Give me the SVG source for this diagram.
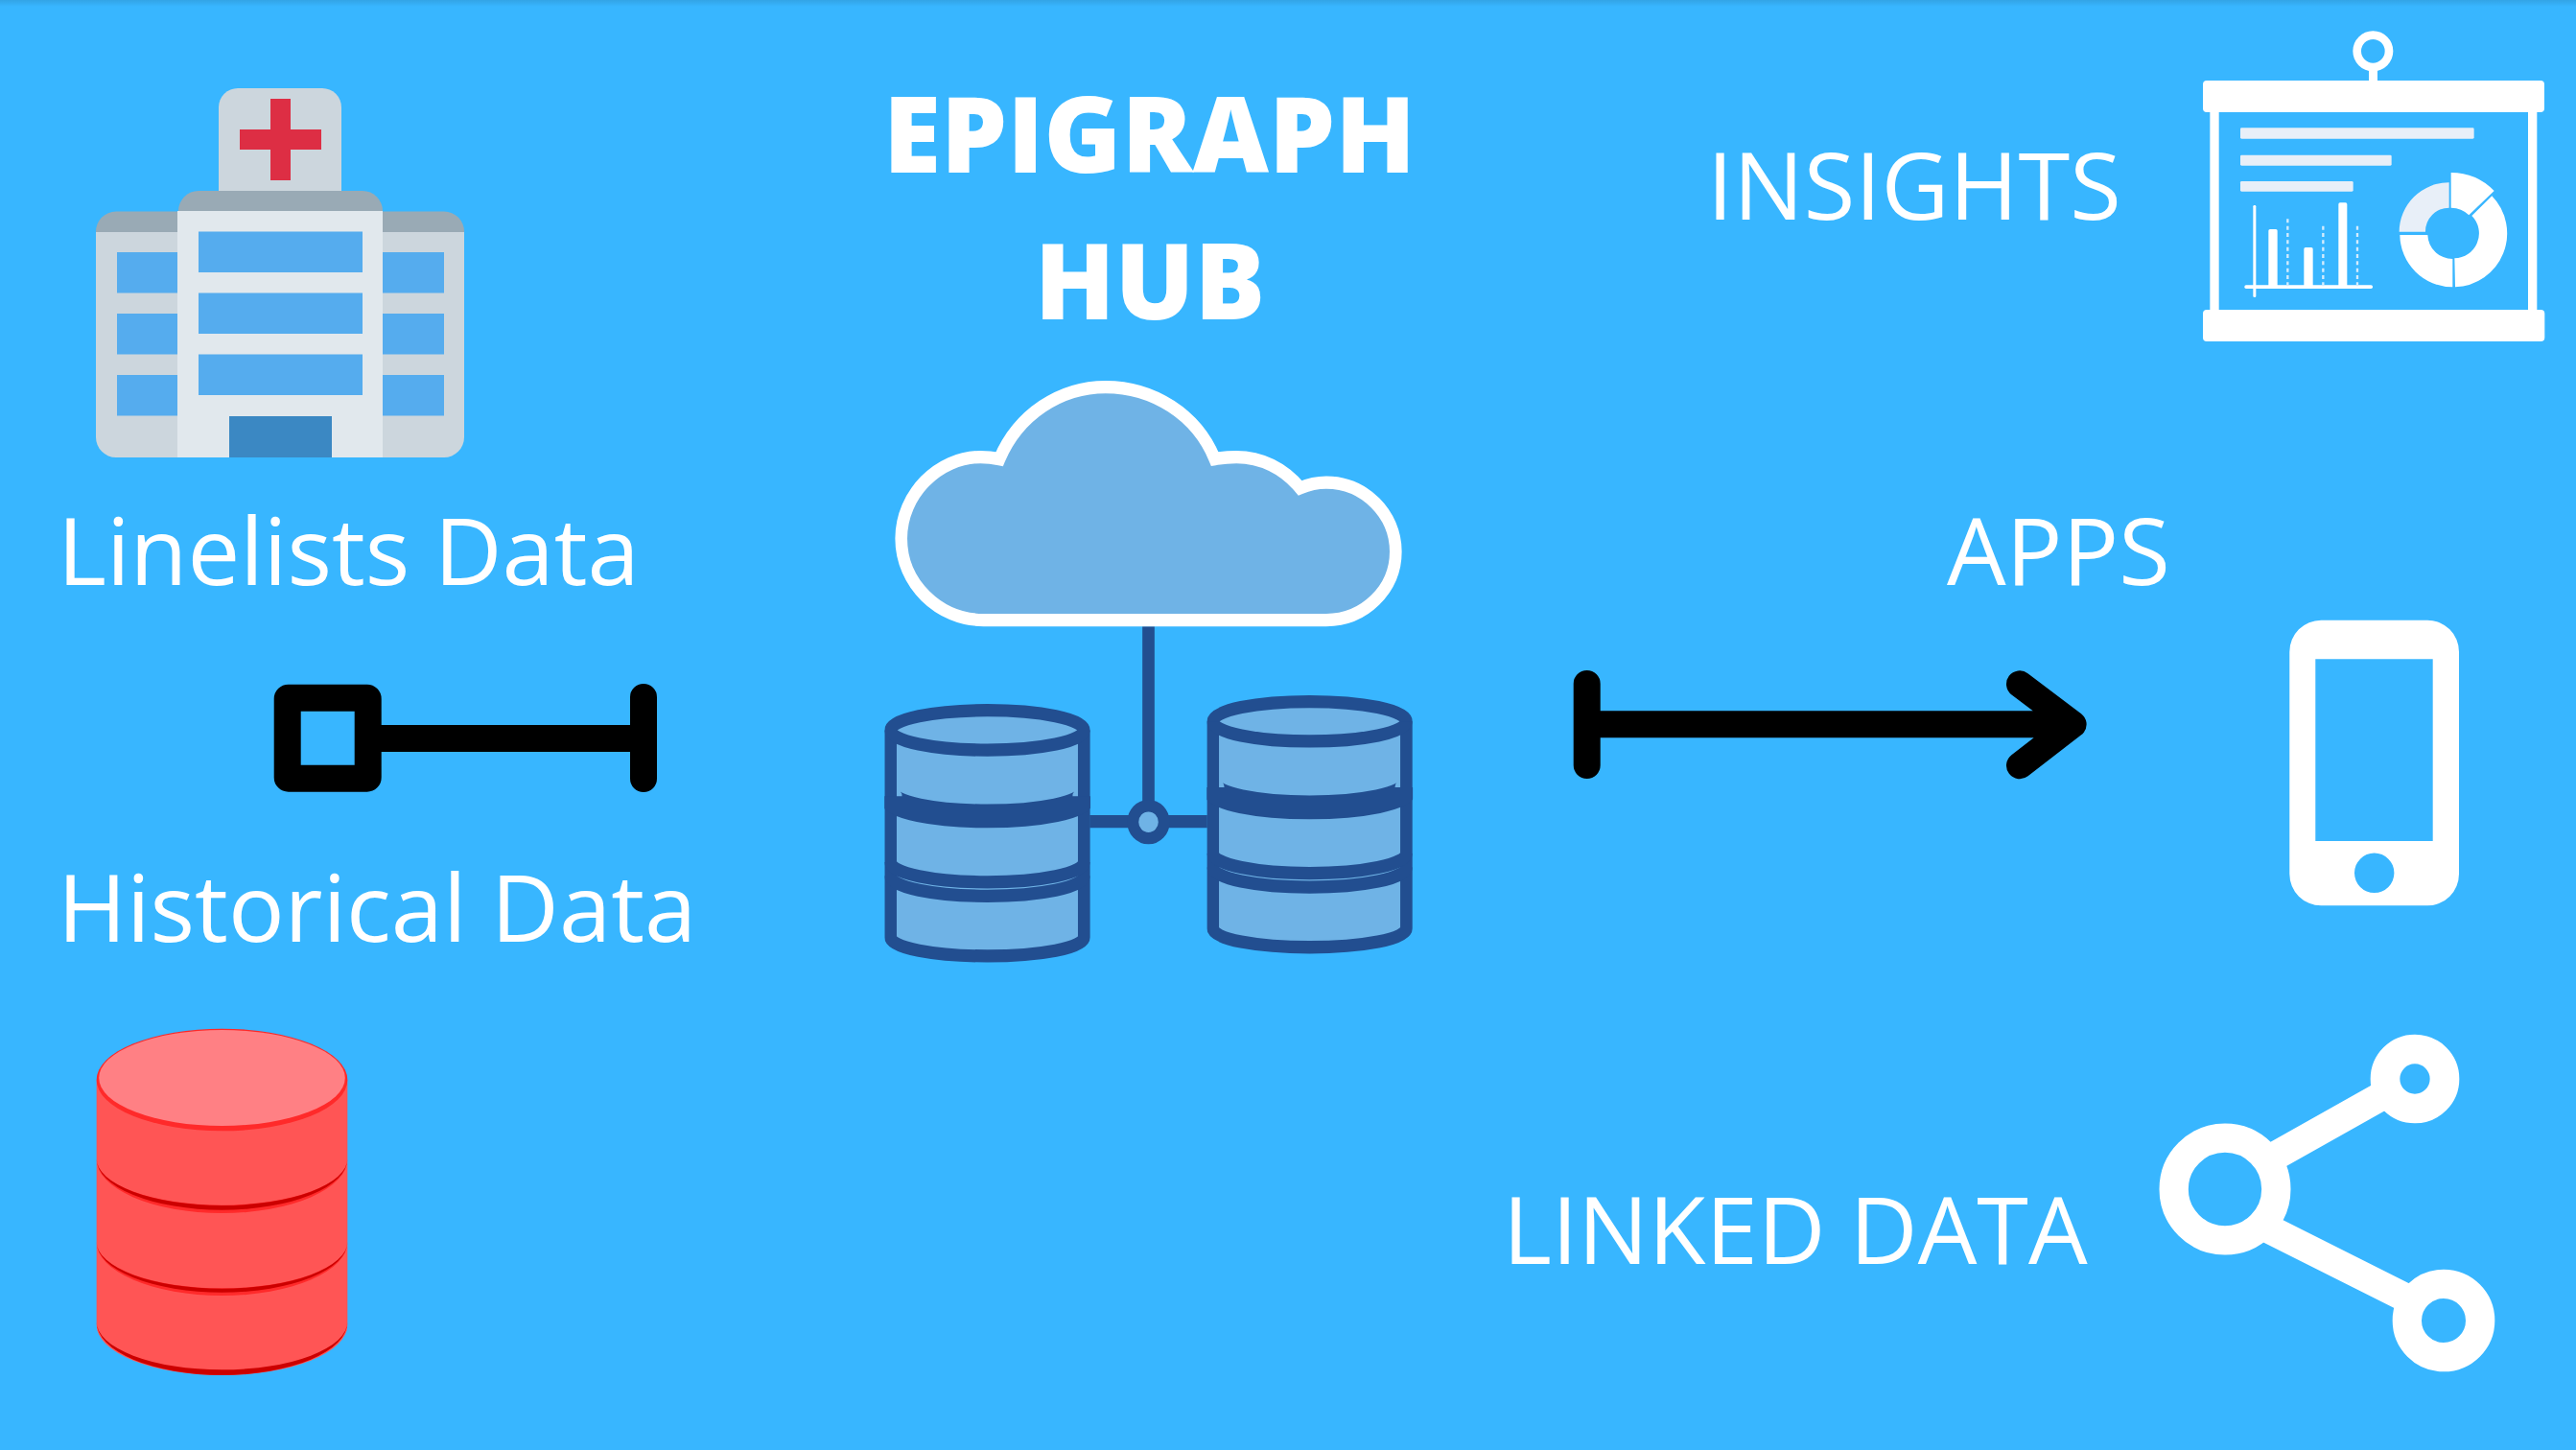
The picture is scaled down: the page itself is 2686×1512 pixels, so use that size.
<svg xmlns="http://www.w3.org/2000/svg" width="2686" height="1512" viewBox="0 0 2686 1512">
<style>
.lbl{font-family:"Open Sans","Liberation Sans",sans-serif;font-weight:400;font-size:97.600px;fill:#fff}
.ttl{font-family:"Open Sans","Liberation Sans",sans-serif;font-weight:800;font-size:109.500px;fill:#fff;text-anchor:middle}
.w{fill:#fff}
.pale{fill:#E8EFF8}
.blk{fill:none;stroke:#000;stroke-width:28;stroke-linecap:round;stroke-linejoin:round}
.dk{fill:none;stroke:#224E90;stroke-width:32}
.win{fill:#55ACEE}
</style>
<defs>
<linearGradient id="topshade" x1="0" y1="0" x2="0" y2="1"><stop offset="0" stop-color="#000" stop-opacity=".1"/><stop offset="1" stop-color="#000" stop-opacity="0"/></linearGradient>
<clipPath id="cylclip"><rect x="107" y="860" width="543" height="680"/></clipPath>
<g id="cyl" clip-path="url(#cylclip)">
<path d="M123 944A255 50 0 0 1 633 944V1465A255 47 0 0 1 123 1465Z" fill="#6FB3E6" stroke="#224E90" stroke-width="32"/>
<path class="dk" d="M123 944A255 50 0 0 0 633 944"/>
<path class="dk" style="stroke-width:60" d="M123 1110A255 50 0 0 0 633 1110"/>
<path class="dk" d="M123 1276A255 50 0 0 0 633 1276"/>
<path class="dk" d="M123 1311A255 50 0 0 0 633 1311"/>
</g>
</defs>
<rect width="2686" height="1512" fill="#38B6FF"/>
<rect width="2686" height="7" fill="url(#topshade)"/>

<g id="hospital">
<path d="M228 199V112a20 20 0 0 1 20-20h88a20 20 0 0 1 20 20V199Z" fill="#CCD6DD"/>
<path d="M282 103h21v32h32v21h-32v32h-21v-32h-32v-21h32Z" fill="#DD2E44"/>
<path d="M100 242V456a21 21 0 0 0 21 21H463a21 21 0 0 0 21-21V242Z" fill="#CCD6DD"/>
<path d="M100 242a21 21 0 0 1 21-21.500H463a21 21 0 0 1 21 21.500Z" fill="#99AAB5"/>
<rect class="win" x="122" y="263" width="341" height="42.500"/>
<rect class="win" x="122" y="327" width="341" height="42.500"/>
<rect class="win" x="122" y="391" width="341" height="42.500"/>
<path d="M186 220a21 21 0 0 1 21-21H378a21 21 0 0 1 21 21Z" fill="#99AAB5"/>
<rect x="185" y="220" width="214" height="257" fill="#E1E8ED"/>
<rect class="win" x="207" y="241.500" width="171" height="42.500"/>
<rect class="win" x="207" y="305.500" width="171" height="42.500"/>
<rect class="win" x="207" y="369.500" width="171" height="42.500"/>
<rect x="239" y="434" width="107" height="43" fill="#3B88C3"/>
</g>

<g id="title">
<text class="ttl" x="1198.500" y="180">EPIGRAPH</text>
<text class="ttl" x="1199" y="333">HUB</text>
</g>
<g id="label-linelists"><text class="lbl" x="60" y="610">Linelists Data</text></g>
<g id="label-historical"><text class="lbl" x="60" y="982">Historical Data</text></g>
<g id="label-insights"><text class="lbl" x="1780" y="229">INSIGHTS</text></g>
<g id="label-apps"><text class="lbl" x="2030" y="610">APPS</text></g>
<g id="label-linked"><text class="lbl" x="1567" y="1318">LINKED DATA</text></g>

<g id="connectors">
<path class="blk" d="M397 770H671M671 727V812"/>
<rect x="299.700" y="727.700" width="84" height="84" rx="1" fill="none" stroke="#000" stroke-width="28" stroke-linejoin="round"/>
<path class="blk" d="M1654.700 755.300H2156M1654.700 713V798M2106 713.300L2161.600 755.300L2106 798.300"/>
</g>

<g id="cloud-hub" transform="translate(880 370) scale(.3954 .4146)">
<path class="dk" d="M803 683V1130M648 1174H958"/>
<circle cx="803" cy="1175" r="41" fill="#6FB3E6" stroke="#224E90" stroke-width="30"/>
<use href="#cyl"/>
<use href="#cyl" x="850" y="-22"/>
<path d="M368 667C250 667 151 575 151 462C151 350 250 257 360 257Q385 257 410 262C460 150 570 81 690 81C815 81 930 150 978 262C1000 258 1015 257 1035 257C1100 257 1160 285 1203 335C1225 326 1250 321 1272 321C1372 321 1455 400 1455 495C1455 590 1372 667 1272 667Z" fill="#6FB3E6" stroke="#fff" stroke-width="32" stroke-linejoin="miter"/>
</g>

<g id="insights" transform="translate(2270 20) scale(.33333)">
<circle cx="613" cy="100" r="50" fill="none" stroke="#fff" stroke-width="26"/>
<rect class="w" x="600" y="150" width="27" height="50"/>
<rect class="w" x="81" y="192" width="1068" height="99" rx="12"/>
<rect class="w" x="81" y="909" width="1069" height="99" rx="12"/>
<rect class="w" x="103" y="280" width="28" height="640"/>
<rect class="w" x="1098" y="280" width="28" height="640"/>
<rect class="pale" x="198" y="340" width="731" height="34" rx="4"/>
<rect class="pale" x="198" y="425" width="473" height="33" rx="4"/>
<rect class="pale" x="198" y="507" width="353" height="32" rx="4"/>
<rect class="w" x="238" y="582" width="9" height="288" rx="4"/>
<rect class="w" x="211" y="832" width="401" height="11" rx="5"/>
<rect class="w" x="286" y="657" width="28" height="180" rx="5"/>
<rect class="w" x="397" y="714" width="28" height="123" rx="5"/>
<rect class="w" x="505" y="574" width="27" height="263" rx="5"/>
<path d="M346 625V835M457 647V835M564 647V835" fill="none" stroke="#D5ECFD" stroke-width="7" stroke-dasharray="12 10"/>
<path class="pale" d="M851 511A155 155 0 0 0 695 665L777 665A74 74 0 0 1 851 590Z"/>
<path class="w" d="M697 675A165 165 0 0 0 862 838L862 750A78 78 0 0 1 784 675Z"/>
<path class="w" d="M985 553A168 168 0 0 1 870 838L868 748A78 78 0 0 0 922 615Z"/>
<path class="w" d="M857 480A188 188 0 0 1 992 537L913 613A78 78 0 0 0 857 590Z"/>
</g>

<g id="phone">
<path class="w" fill-rule="evenodd" d="M2420.300 646.700H2531a33 33 0 0 1 33 33V911.300a33 33 0 0 1-33 33H2420.300a33 33 0 0 1-33-33V679.700a33 33 0 0 1 33-33ZM2414.300 687.300V877H2536.700V687.300ZM2455 910.300a20.700 20.700 0 1 0 41.400 0a20.700 20.700 0 1 0-41.400 0Z"/>
</g>

<g id="share" transform="translate(2230 1060) scale(.33333)">
<path d="M340 485L800 226M340 631L860 892" fill="none" stroke="#fff" stroke-width="90"/>
<circle cx="270" cy="540" r="160" fill="#38B6FF" stroke="#fff" stroke-width="91"/>
<circle cx="864" cy="195" r="93" fill="#38B6FF" stroke="#fff" stroke-width="92"/>
<circle cx="954" cy="951" r="114.500" fill="#38B6FF" stroke="#fff" stroke-width="91"/>
</g>

<g id="red-db" transform="translate(80 1050) scale(.33333)">
<path d="M62 228H847V995A392.500 157 0 0 1 62 995Z" fill="#FF5555"/>
<path d="M62 985A392.500 167 0 0 0 847 985A392.500 150 0 0 1 62 985Z" fill="#CC0000"/>
<path d="M62 475A392.500 170 0 0 0 847 475A392.500 145 0 0 1 62 475Z" fill="#FF2A2A"/>
<path d="M62 475A392.500 160 0 0 0 847 475A392.500 146 0 0 1 62 475Z" fill="#CC0000"/>
<path d="M62 735A392.500 168 0 0 0 847 735A392.500 145 0 0 1 62 735Z" fill="#FF2A2A"/>
<path d="M62 735A392.500 158 0 0 0 847 735A392.500 146 0 0 1 62 735Z" fill="#CC0000"/>
<ellipse cx="454.500" cy="228" rx="392.500" ry="160" fill="#FF2A2A"/>
<ellipse cx="454.500" cy="222" rx="385" ry="150" fill="#FF8084"/>
</g>
</svg>
